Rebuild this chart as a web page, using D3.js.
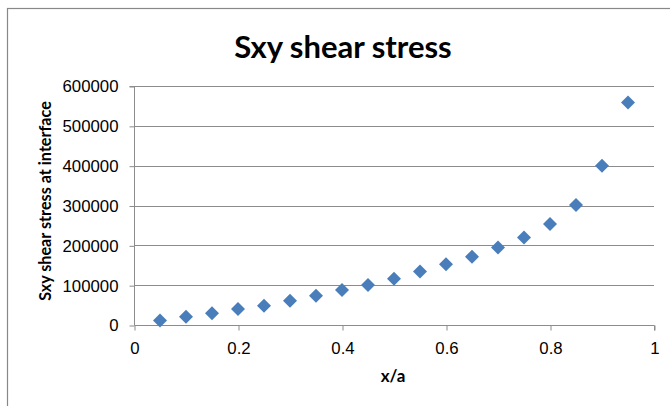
<!DOCTYPE html>
<html>
<head>
<meta charset="utf-8">
<script src="https://cdn.jsdelivr.net/npm/d3@7"></script>
<style>
  html, body { margin: 0; padding: 0; background: #fff; }
  svg { display: block; font-family: Lato, "Open Sans", sans-serif; }
</style>
</head>
<body>
<svg id="chart" width="670" height="406"></svg>
<script>
// Shear stress Sxy along the interface, sampled at x/a
const xOverA = [0.05, 0.1, 0.15, 0.2, 0.25, 0.3, 0.35, 0.4, 0.45, 0.5,
                0.55, 0.6, 0.65, 0.7, 0.75, 0.8, 0.85, 0.9, 0.95];
const sxy = [11000, 21000, 29500, 40000, 48500, 61000, 73500, 88000, 100500, 116000,
             134500, 152500, 171500, 194500, 219500, 253500, 301500, 399500, 558500];
const xTicks = [0, 0.2, 0.4, 0.6, 0.8, 1];
const yTicks = [0, 100000, 200000, 300000, 400000, 500000, 600000];

const svg = d3.select("#chart");
const W = 670, H = 406;
const plot = { left: 134, right: 654, top: 86, bottom: 325 };

// Outer chart frame
svg.append("rect")
  .attr("x", 7.5).attr("y", 8.5)
  .attr("width", W + 10).attr("height", H + 10)
  .attr("fill", "#fff").attr("stroke", "#888").attr("stroke-width", 1.2);

const x = d3.scaleLinear().domain([0, 1]).range([plot.left, plot.right]);
const y = d3.scaleLinear().domain([0, 600000]).range([plot.bottom, plot.top]);

// Horizontal gridlines
svg.append("g")
  .selectAll("line")
  .data(yTicks.slice(1))
  .join("line")
  .attr("x1", plot.left).attr("x2", plot.right)
  .attr("y1", d => Math.round(y(d)) + 0.5).attr("y2", d => Math.round(y(d)) + 0.5)
  .attr("stroke", "#8c8c8c").attr("stroke-width", 1);

// Y axis
const yAxis = svg.append("g")
  .attr("transform", `translate(${plot.left + 0.5},0.5)`)
  .call(d3.axisLeft(y).tickValues(yTicks).tickFormat(d3.format("d")).tickSize(5).tickPadding(11));
yAxis.select(".domain").attr("stroke", "#8c8c8c").attr("d", `M-5,${plot.top}H0V${plot.bottom}`);
yAxis.selectAll(".tick line").attr("stroke", "#8c8c8c");
yAxis.selectAll(".tick text").attr("font-size", 16.8).attr("fill", "#000");

// X axis
const xAxis = svg.append("g")
  .attr("transform", `translate(0.5,${Math.round(plot.bottom) + 0.5})`)
  .call(d3.axisBottom(x).tickValues(xTicks).tickFormat(d => d3.format("")(d)).tickSize(5).tickPadding(12));
xAxis.select(".domain").attr("stroke", "#8c8c8c").attr("d", `M${plot.left},0H${plot.right}V5`);
xAxis.selectAll(".tick line").attr("stroke", "#8c8c8c");
xAxis.selectAll(".tick text").attr("font-size", 16.8).attr("fill", "#000");

// Diamond markers
const r = 7;
svg.append("g")
  .selectAll("path")
  .data(xOverA.map((v, i) => [v, sxy[i]]))
  .join("path")
  .attr("d", d => {
    const cx = x(d[0]), cy = y(d[1]);
    return `M${cx},${cy - r}L${cx + r},${cy}L${cx},${cy + r}L${cx - r},${cy}Z`;
  })
  .attr("fill", "#4a7ebb");

// Title
svg.append("text")
  .attr("x", 343).attr("y", 58)
  .attr("text-anchor", "middle")
  .attr("font-size", 31).attr("font-weight", "bold")
  .text("Sxy shear stress");

// Axis titles
svg.append("text")
  .attr("x", 393).attr("y", 382)
  .attr("text-anchor", "middle")
  .attr("font-size", 17).attr("font-weight", "bold")
  .text("x/a");

svg.append("text")
  .attr("transform", "translate(51,201) rotate(-90)")
  .attr("text-anchor", "middle")
  .attr("font-size", 16.2).attr("font-weight", "bold")
  .text("Sxy shear stress at interface");
</script>
</body>
</html>
